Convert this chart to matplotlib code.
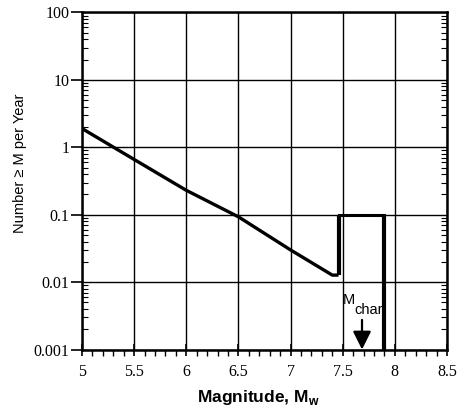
import matplotlib
matplotlib.use("Agg")
import matplotlib.pyplot as plt
from matplotlib.ticker import FixedLocator, NullFormatter, LogLocator

# Magnitude-recurrence curve: exponential part and characteristic box
mag_exp = [5.0, 5.5, 6.0, 6.5, 7.0, 7.4, 7.46]
rate_exp = [1.9, 0.66, 0.23, 0.093, 0.030, 0.0127, 0.0127]

mag_char = [7.46, 7.46, 7.90, 7.90]
rate_char = [0.0127, 0.1, 0.1, 0.001]

m_char = 7.685

x_ticks = [5, 5.5, 6, 6.5, 7, 7.5, 8, 8.5]
x_tick_labels = ["5", "5.5", "6", "6.5", "7", "7.5", "8", "8.5"]
y_ticks = [0.001, 0.01, 0.1, 1, 10, 100]
y_tick_labels = ["0.001", "0.01", "0.1", "1", "10", "100"]

serif = ["Liberation Serif", "DejaVu Serif"]
sans = ["Liberation Sans", "DejaVu Sans"]

fig = plt.figure(figsize=(4.6, 4.11), dpi=100)
ax = fig.add_axes([82 / 460, 1 - 349.5 / 411, (447 - 82) / 460, (349.5 - 12.5) / 411])

ax.set_yscale("log")
ax.set_xlim(5, 8.5)
ax.set_ylim(0.001, 100)

ax.grid(True, which="major", color="black", linewidth=1.0)
ax.set_axisbelow(True)

ax.plot(mag_exp, rate_exp, color="black", linewidth=2.4, solid_capstyle="butt",
        solid_joinstyle="miter")
ax.plot(mag_char[:2], rate_char[:2], color="black", linewidth=3.0, solid_capstyle="butt")
ax.plot(mag_char[1:3], rate_char[1:3], color="black", linewidth=2.2, solid_capstyle="projecting")
ax.plot(mag_char[2:], rate_char[2:], color="black", linewidth=3.0, solid_capstyle="butt")

# M_char label and arrow
ax.text(7.505, 0.0055, "M", fontsize=10.5, family=sans, ha="left", va="center")
ax.text(7.61, 0.0039, "char", fontsize=10.5, family=sans, ha="left", va="center")
ax.annotate("", xy=(m_char, 0.001), xytext=(m_char, 0.00275),
            arrowprops=dict(arrowstyle="-|>,head_length=1.1,head_width=0.55",
                            color="black", linewidth=1.6, shrinkA=0, shrinkB=0))

ax.xaxis.set_major_locator(FixedLocator(x_ticks))
ax.set_xticklabels(x_tick_labels, family=serif, fontsize=11.5)
ax.xaxis.set_minor_locator(FixedLocator([5 + 0.1 * i for i in range(36)]))
ax.yaxis.set_major_locator(FixedLocator(y_ticks))
ax.set_yticklabels(y_tick_labels, family=serif, fontsize=11.5)
ax.yaxis.set_minor_locator(LogLocator(base=10, subs=range(2, 10), numticks=20))
ax.yaxis.set_minor_formatter(NullFormatter())

ax.tick_params(axis="x", which="major", direction="inout", length=9, width=1.2,
               pad=6, color="black")
ax.tick_params(axis="x", which="minor", direction="out", length=4, width=1.0)
ax.tick_params(axis="y", which="major", direction="out", length=8, width=1.2, pad=1)
ax.tick_params(axis="y", which="minor", direction="in", length=4, width=0.8,
               right=True)

for s in ax.spines.values():
    s.set_linewidth(1.8)
    s.set_color("black")

ax.set_xlabel("Magnitude, M$_\\mathregular{w}$", family=sans, fontsize=12.5,
              fontweight="bold", labelpad=8)
ax.xaxis.set_label_coords(0.483, -0.115)
ax.set_ylabel("Number \u2265 M per Year", family=sans, fontsize=10.5)
ax.yaxis.set_label_coords(-0.15, 0.553)

fig.savefig("out.png", dpi=100)
